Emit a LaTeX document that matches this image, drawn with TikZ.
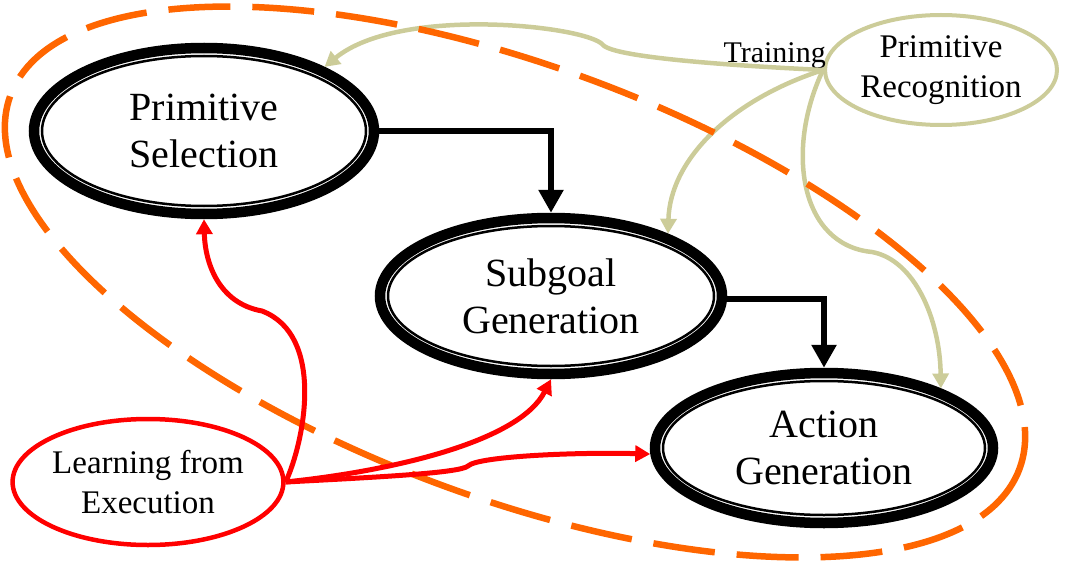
\documentclass[tikz,border=0pt]{standalone}
\usepackage{fontspec}
\setmainfont{Liberation Serif}
\usetikzlibrary{arrows.meta,shapes.geometric}
\definecolor{khaki}{RGB}{204,204,153}
\definecolor{orng}{RGB}{255,102,0}
\begin{document}
\begin{tikzpicture}[x=1pt,y=-1pt,
  stage/.style={ellipse, draw=black, fill=white, line width=10.5pt, align=center,
    font=\fontsize{40}{47}\selectfont, inner sep=0pt},
  side/.style={ellipse, fill=white, line width=4.5pt, align=center,
    font=\fontsize{33}{40}\selectfont, inner sep=0pt},
  innerring/.style={line width=2.5pt},
  flow/.style={line width=6pt, -{Triangle[length=23pt,width=24pt]}},
  train/.style={khaki, line width=4.5pt, -{Triangle[length=15pt,width=16pt]}},
  learn/.style={red, line width=5pt, -{Triangle[length=15pt,width=16pt]}},
  hull/.style={orng, line width=6.5pt, dash pattern=on 62pt off 22pt},
]
\useasboundingbox (0,0) rectangle (1076,567);

% nodes
\node[stage, minimum width=340pt, minimum height=166pt] (ps) at (204,131) {Primitive\\Selection};
\node[stage, minimum width=342pt, minimum height=156pt] (sg) at (551,296) {Subgoal\\Generation};
\node[stage, minimum width=338pt, minimum height=150pt] (ag) at (824,448) {Action\\Generation};
\draw[innerring] (ps.center) ellipse [x radius=162, y radius=75];
\draw[innerring] (sg.center) ellipse [x radius=163, y radius=70];
\draw[innerring] (ag.center) ellipse [x radius=161, y radius=67];

\node[side, draw=khaki, line width=4pt, minimum width=232pt, minimum height=110pt] (pr) at (941,70) {Primitive\\Recognition};
\node[side, draw=red, minimum width=262pt, minimum height=126pt] (le) at (148,482) {Learning from\\Execution};
\node[font=\fontsize{30}{36}\selectfont, anchor=base east, inner sep=0pt] (tr) at (826,63) {Training};

% training connectors
\draw[train] (pr.west) .. controls (740,66) and (615,58) .. (603,45)
  .. controls (588,26) and (400,5) .. (ps.28);
\draw[train] (pr.west) .. controls (730,100) and (670,160) .. (sg.28);
\draw[train] (pr.west) .. controls (785,150) and (800,245) .. (872,252)
  .. controls (915,260) and (940,320) .. (ag.27);

% group outline
\draw[hull, rotate around={-20.3:(515,282)}] (515,282) ellipse [x radius=538, y radius=216];

% learning connectors
\draw[learn] (le.east) .. controls (305,440) and (325,335) .. (262,311)
  .. controls (218,303) and (205,262) .. (ps.south);
\draw[learn] (le.east) .. controls (400,470) and (520,440) .. (sg.south);
\draw[learn] (le.east) .. controls (380,477) and (460,473) .. (468,466)
  .. controls (478,456) and (580,452) .. (ag.182);

% flow
\draw[flow] (ps.east) -| (sg.north);
\draw[flow] (sg.-1.3) -| (ag.north);
\end{tikzpicture}
\end{document}
